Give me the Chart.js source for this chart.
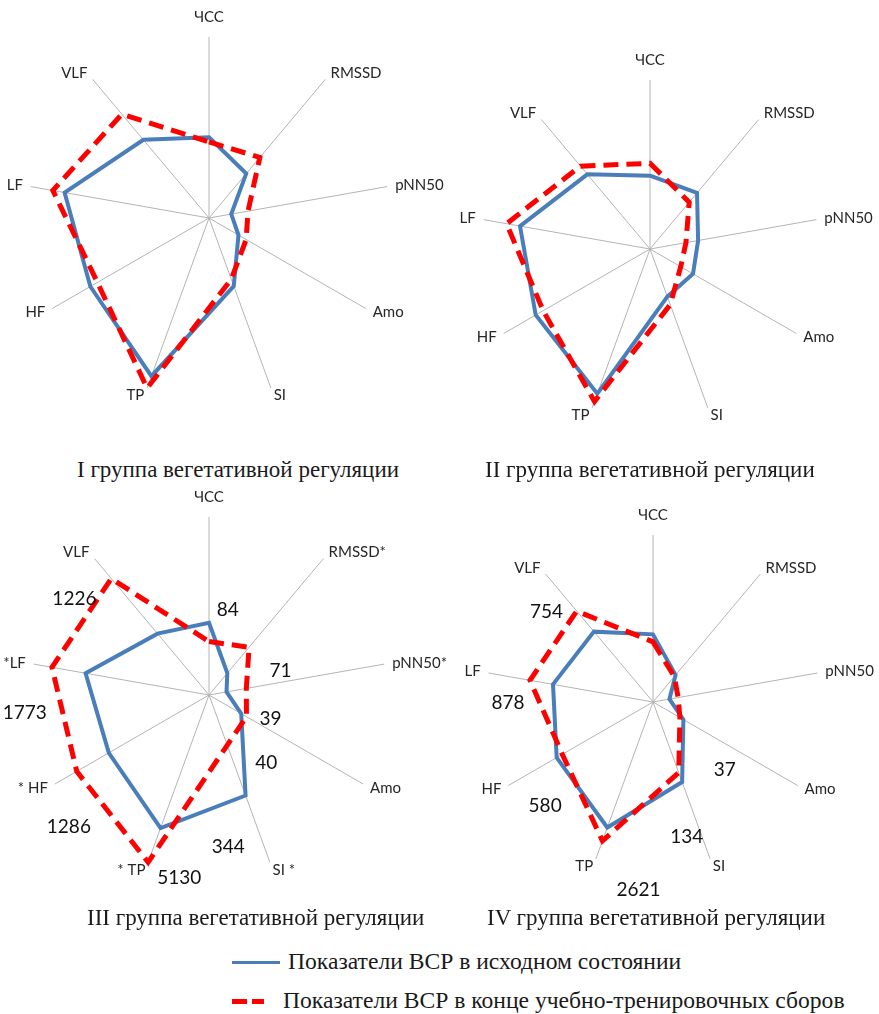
<!DOCTYPE html>
<html lang="ru">
<head>
<meta charset="utf-8">
<title>Показатели ВСР</title>
<script src="https://cdn.jsdelivr.net/npm/chart.js@4.4.1/dist/chart.umd.min.js"></script>
<style>
  body { margin: 0; background: #fff; }
  #page { position: relative; width: 879px; height: 1014px; overflow: hidden; background: #fff; }
  #page canvas { position: absolute; }
  .caption, .legend-text {
    position: absolute;
    font-family: 'Liberation Serif', 'Times New Roman', serif;
    color: #1a1a1a;
    white-space: nowrap;
    line-height: 1;
  }
  .caption { font-size: 23px; }
  .legend-text { font-size: 23.6px; }
  .swatch { position: absolute; }
</style>
</head>
<body>
<div id="page"></div>
<script>
// axes of every radar, clockwise from the top
const axes = ['ЧСС', 'RMSSD', 'pNN50', 'Amo', 'SI', 'TP', 'HF', 'LF', 'VLF'];
// group III marks significant shifts with an asterisk
const axesMarked = ['ЧСС', 'RMSSD*', 'pNN50*', 'Amo', 'SI *', '* TP', '* HF', '*LF', 'VLF'];

const seriesNames = [
  'Показатели ВСР в исходном состоянии',
  'Показатели ВСР в конце учебно-тренировочных сборов'
];
const captions = [
  'I группа вегетативной регуляции',
  'II группа вегетативной регуляции',
  'III группа вегетативной регуляции',
  'IV группа вегетативной регуляции'
];

// relative level of each index, 0..100 of the axis length
const group1Start = [44.6, 32.0, 12.5, 18.8, 40.0, 93.0, 75.7, 81.0, 56.4];
const group1End   = [42.0, 43.7, 21.9, 23.7, 36.0, 100, 71.2, 87.6, 74.9];
const group2Start = [43.4, 43.3, 28.9, 29.4, 30.0, 91.1, 78.1, 78.1, 57.7];
const group2End   = [50.7, 36.1, 21.6, 21.0, 35.0, 96.0, 73.0, 86.2, 64.0];
const group3Start = [40.6, 16.0, 10.0, 20.9, 60.1, 79.6, 65.0, 70.4, 45.0];
const group3End   = [30.0, 35.0, 21.3, 24.3, 30.0, 100, 85.8, 89.6, 85.4];
const group4Start = [40.5, 21.0, 10.0, 21.0, 51.0, 80.0, 66.6, 60.8, 55.0];
const group4End   = [36.0, 19.8, 15.3, 18.6, 45.0, 88.5, 62.7, 74.8, 71.1];

// absolute values written next to groups III and IV
const group3Notes = ['1226', '84', '71', '39', '40', '1773', '1286', '344', '5130'];
const group4Notes = ['754', '878', '37', '580', '134', '2621'];

const BLUE = '#4a7ebb';
const RED = '#ff0000';

// where the note texts sit: axis position (fractional index) and radial level
const notePos3 = {
  axis:  [7.64, 0.31, 1.78, 2.79, 3.50, 6.61, 5.67, 4.32, 4.73],
  level: [93, 48.9, 42.5, 37.1, 50.1, 104, 108, 86.2, 104.3]
};
const notePos4 = {
  axis:  [7.76, 6.74, 3.34, 5.65, 4.15, 4.61],
  level: [83.7, 86.8, 59.3, 89.8, 83.4, 113.1]
};

// canvas boxes and paddings so the four radars sit in a 2x2 grid
const panels = [
  { box: [0, 0, 450, 440],     pad: { left: 28, top: 37, right: 60, bottom: 41 },
    labels: axes, start: group1Start, end: group1End },
  { box: [440, 0, 439, 460],   pad: { left: 41, top: 80, right: 60, bottom: 42 },
    labels: axes, start: group2Start, end: group2End },
  { box: [0, 480, 450, 440],   pad: { left: 31, top: 37, right: 63, bottom: 47 },
    labels: axesMarked, start: group3Start, end: group3End, notes: group3Notes, notePos: notePos3 },
  { box: [440, 480, 439, 440], pad: { left: 46, top: 55, right: 59, bottom: 51 },
    labels: axes, start: group4Start, end: group4End, notes: group4Notes, notePos: notePos4 }
];

const captionBoxes = [[77, 458], [485, 458], [87, 906], [487, 906]];

// axis names outside the spokes plus optional value notes
const radarText = {
  id: 'radarText',
  afterDraw(chart, args, opts) {
    const r = chart.scales.r;
    const ctx = chart.ctx;
    const n = chart.data.labels.length;
    ctx.save();
    ctx.fillStyle = '#262626';
    ctx.textBaseline = 'middle';
    ctx.font = '15px Lato';
    chart.data.labels.forEach((text, i) => {
      const deg = i * 360 / n;
      const p = r.getPointPosition(i, r.drawingArea + 8);
      let align = 'center';
      if (deg > 0 && deg < 180) align = 'left';
      else if (deg > 180) align = 'right';
      ctx.textAlign = align;
      ctx.fillText(text, p.x, deg === 0 ? p.y - 12 : p.y);
    });
    if (opts.notes) {
      ctx.font = '19px Lato';
      ctx.fillStyle = '#111';
      ctx.textAlign = 'center';
      opts.notes.forEach((text, k) => {
        const a = opts.pos.axis[k] * 2 * Math.PI / n - Math.PI / 2;
        const d = r.getDistanceFromCenterForValue(opts.pos.level[k]);
        ctx.fillText(text, r.xCenter + Math.cos(a) * d, r.yCenter + Math.sin(a) * d);
      });
    }
    ctx.restore();
  }
};

const page = document.getElementById('page');

panels.forEach((p, idx) => {
  const canvas = document.createElement('canvas');
  const [x, y, w, h] = p.box;
  canvas.width = w;
  canvas.height = h;
  canvas.style.left = x + 'px';
  canvas.style.top = y + 'px';
  canvas.style.width = w + 'px';
  canvas.style.height = h + 'px';
  page.appendChild(canvas);

  new Chart(canvas, {
    type: 'radar',
    data: {
      labels: p.labels,
      datasets: [
        {
          label: seriesNames[0],
          data: p.start,
          borderColor: BLUE,
          borderWidth: 4,
          fill: false,
          pointRadius: 0,
          order: 1,
          clip: false
        },
        {
          label: seriesNames[1],
          data: p.end,
          borderColor: RED,
          borderWidth: 5,
          borderDash: [15, 8],
          fill: false,
          pointRadius: 0,
          order: 0,
          clip: false
        }
      ]
    },
    options: {
      responsive: false,
      animation: false,
      devicePixelRatio: 1,
      layout: { padding: p.pad },
      elements: { line: { tension: 0, borderJoinStyle: 'miter' } },
      plugins: {
        legend: { display: false },
        tooltip: { enabled: false },
        radarText: { notes: p.notes, pos: p.notePos }
      },
      scales: {
        r: {
          min: 0,
          max: 100,
          ticks: { display: false },
          grid: { display: false },
          angleLines: { display: true, color: '#b4b4b4', lineWidth: 1 },
          pointLabels: { display: false }
        }
      }
    },
    plugins: [radarText]
  });

  const cap = document.createElement('div');
  cap.className = 'caption';
  cap.textContent = captions[idx];
  cap.style.left = captionBoxes[idx][0] + 'px';
  cap.style.top = captionBoxes[idx][1] + 'px';
  page.appendChild(cap);
});

// shared legend below the grid
function addSwatch(left, top, width, height, color) {
  const s = document.createElement('div');
  s.className = 'swatch';
  s.style.cssText = `left:${left}px;top:${top}px;width:${width}px;height:${height}px;background:${color}`;
  page.appendChild(s);
}
function addLegendText(text, left, top) {
  const t = document.createElement('div');
  t.className = 'legend-text';
  t.textContent = text;
  t.style.left = left + 'px';
  t.style.top = top + 'px';
  page.appendChild(t);
}

addSwatch(232, 961, 48, 3, BLUE);
addLegendText(seriesNames[0], 288, 950);
addSwatch(232, 999, 15, 5, RED);
addSwatch(252, 999, 12, 5, RED);
addLegendText(seriesNames[1], 283, 989);
</script>
</body>
</html>
